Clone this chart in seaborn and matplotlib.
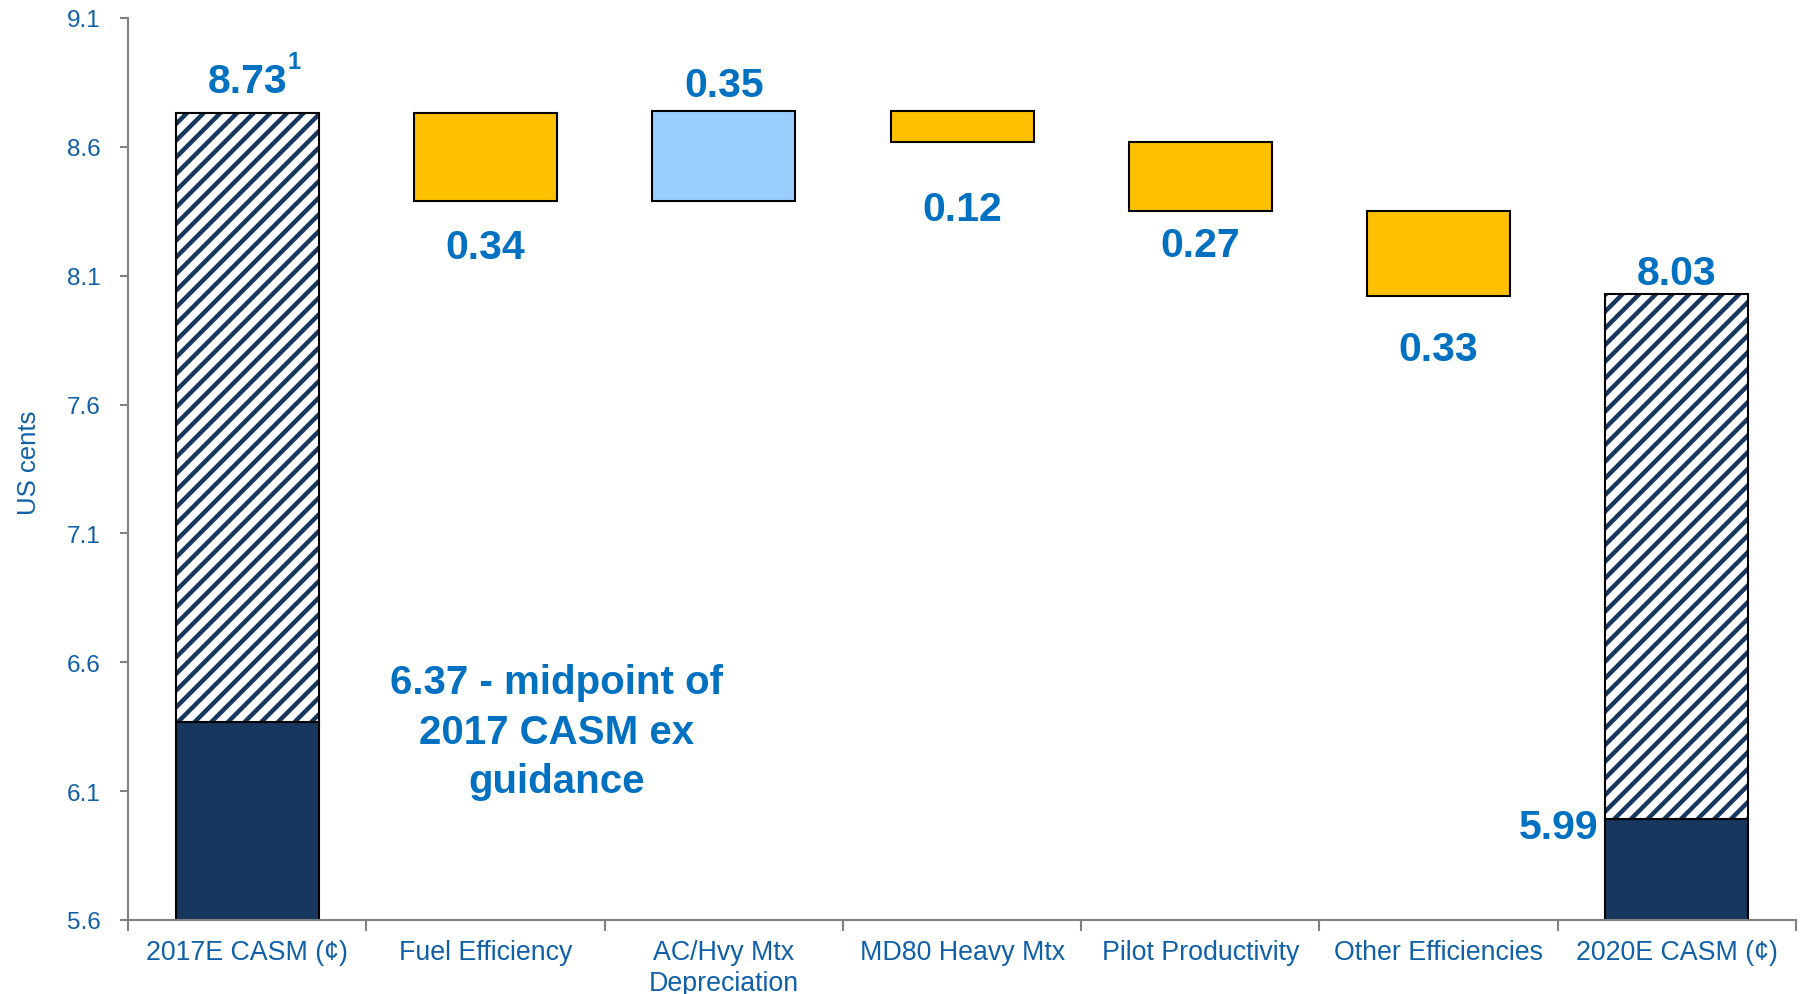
import numpy as np
import matplotlib
matplotlib.use("Agg")
import matplotlib.pyplot as plt
import seaborn as sns
import pandas as pd

# data
categories = ['2017E CASM (¢)', 'Fuel Efficiency', 'AC/Hvy Mtx\nDepreciation',
              'MD80 Heavy Mtx', 'Pilot Productivity', 'Other Efficiencies',
              '2020E CASM (¢)']
start_total = 8.73
start_base = 6.37
deltas = [-0.34, 0.35, -0.12, -0.27, -0.33]
end_total = 8.03
end_base = 5.99
yticks = [5.6, 6.1, 6.6, 7.1, 7.6, 8.1, 8.6, 9.1]
note = '6.37 - midpoint of\n2017 CASM ex\nguidance'

# how far each delta label sits from its bar end (the source chart is uneven)
label_gap = [0.18, 0.10, 0.26, 0.13, 0.205]

navy = '#17375E'
gold = '#FFC000'
light_blue = '#99CCFF'
label_blue = '#0070C0'
tick_blue = '#1060A8'
grey = '#808080'

sns.set_theme(style='white')
plt.rcParams['font.family'] = ['Liberation Sans', 'DejaVu Sans']
plt.rcParams['hatch.linewidth'] = 3.2

fig = plt.figure(figsize=(18.04, 9.95), dpi=100)
ax = fig.add_axes([0.071, 0.0744, 0.9246, 0.9066])

# dark base of the two totals
base_df = pd.DataFrame({'cat': [categories[0], categories[-1]],
                        'val': [start_base, end_base]})
sns.barplot(data=base_df, x='cat', y='val', order=categories, color=navy,
            saturation=1, width=0.6, edgecolor='black', linewidth=1.5, ax=ax)

# hatched part of the totals
tot_x = [0, len(categories) - 1]
tot_lo = [start_base, end_base]
tot_hi = [start_total, end_total]
for x, lo, hi in zip(tot_x, tot_lo, tot_hi):
    ax.bar(x, hi - lo, bottom=lo, width=0.6, color='white', edgecolor=navy,
           hatch='//', linewidth=0, zorder=2)
    ax.bar(x, hi - lo, bottom=lo, width=0.6, fill=False, edgecolor='black',
           linewidth=1.5, zorder=3)

val_fs = 29.5

# floating bars
level = start_total
for i, (d, gap) in enumerate(zip(deltas, label_gap), start=1):
    lo, hi = sorted([level, level + d])
    col = light_blue if d > 0 else gold
    ax.bar(i, hi - lo, bottom=lo, width=0.6, color=col, edgecolor='black',
           linewidth=1.5, zorder=3)
    ypos = hi + gap if d > 0 else lo - gap
    ax.text(i, ypos, f'{abs(d):.2f}', ha='center', va='center',
            fontsize=val_fs, fontweight='bold', color=label_blue)
    level += d

# total labels
ax.text(0, start_total + 0.125, f'{start_total:.2f}', ha='center',
        va='center', fontsize=val_fs, fontweight='bold', color=label_blue)
ax.annotate('1', xy=(0, start_total + 0.125), xytext=(29, 14),
            textcoords='offset points', ha='left', va='center',
            fontsize=17, fontweight='bold', color=label_blue)
ax.text(6, end_total + 0.08, f'{end_total:.2f}', ha='center', va='center',
        fontsize=val_fs, fontweight='bold', color=label_blue)
ax.text(5.67, end_base - 0.03, f'{end_base:.2f}', ha='right', va='center',
        fontsize=val_fs, fontweight='bold', color=label_blue)
ax.text(1.30, 6.33, note, ha='center', va='center', fontsize=29,
        fontweight='bold', color=label_blue, linespacing=1.38)

# axes styling
ax.set_ylim(5.6, 9.1)
ax.set_xlim(-0.5, len(categories) - 0.5)
ax.set_yticks(yticks)
ax.set_yticklabels([f'{v:.1f}' for v in yticks])
ax.set_xticks(range(len(categories)))
ax.set_xticklabels(categories, linespacing=1.25)
ax.set_xticks(np.arange(-0.5, len(categories)), minor=True)
ax.set_xlabel('')
ax.set_ylabel('US cents', fontsize=18.5, color=tick_blue)
ax.yaxis.set_label_coords(-0.052, 0.508)

ax.tick_params(axis='y', left=True, length=6, width=1.5, color=grey,
               labelsize=17.5, labelcolor=tick_blue, pad=14)
ax.tick_params(axis='x', which='major', bottom=False, length=0,
               labelsize=19.3, labelcolor=tick_blue, pad=14)
ax.tick_params(axis='x', which='minor', bottom=True, length=8, width=1.5,
               color=grey)

sns.despine(ax=ax, top=True, right=True)
for side in ['left', 'bottom']:
    ax.spines[side].set_color(grey)
    ax.spines[side].set_linewidth(1.5)
    ax.spines[side].set_zorder(4)

fig.savefig('out.png', dpi=100)
